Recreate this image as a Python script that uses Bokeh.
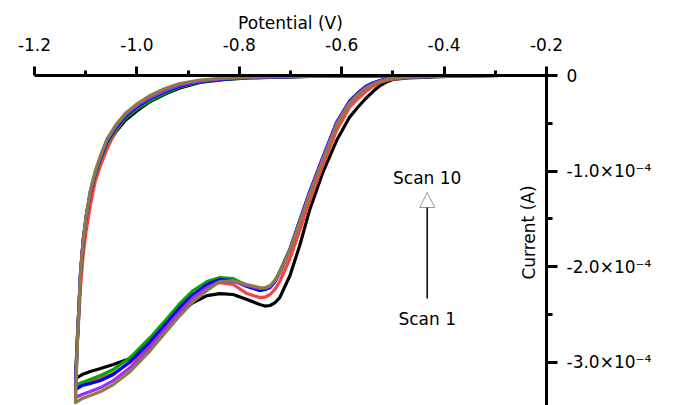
from bokeh.plotting import figure
from bokeh.models import Range1d, FixedTicker, NumeralTickFormatter, Label, Arrow, NormalHead
from bokeh.embed import file_html
from bokeh.resources import INLINE

# Potential (V) sampled along the cathodic (lower) and anodic (upper) branches
potential_fwd = [-0.23, -0.29, -0.37, -0.43, -0.47, -0.50, -0.513, -0.525, -0.539, -0.553, -0.569,
                 -0.585, -0.597, -0.61, -0.637, -0.663, -0.682, -0.701, -0.721, -0.73, -0.74, -0.75,
                 -0.76, -0.785, -0.812, -0.838, -0.863, -0.89, -0.916, -0.941, -0.974, -1.013,
                 -1.046, -1.071, -1.091, -1.107, -1.12]
potential_rev = [-1.12, -1.118, -1.116, -1.114, -1.11, -1.105, -1.099, -1.091, -1.081, -1.071,
                 -1.058, -1.042, -1.023, -0.999, -0.974, -0.945, -0.916, -0.877, -0.828, -0.779,
                 -0.721, -0.643, -0.546, -0.448, -0.331, -0.23]

# Current in units of 1e-4 A
scan1_fwd = [0, 0, -0.005, -0.016, -0.026, -0.042, -0.068, -0.105, -0.168, -0.241, -0.335, -0.440,
             -0.555, -0.681, -1.016, -1.414, -1.780, -2.094, -2.325, -2.377, -2.408, -2.414, -2.398,
             -2.346, -2.293, -2.283, -2.304, -2.377, -2.482, -2.607, -2.827, -2.963, -3.026, -3.068,
             -3.099, -3.131, -3.173]
scan1_rev = [-3.173, -2.942, -2.712, -2.513, -2.073, -1.749, -1.497, -1.257, -1.058, -0.901, -0.733,
             -0.597, -0.471, -0.367, -0.272, -0.194, -0.131, -0.073, -0.042, -0.026, -0.016, -0.007,
             -0.003, 0, 0, 0]
scan2_fwd = [0, 0, -0.005, -0.010, -0.021, -0.037, -0.052, -0.073, -0.115, -0.168, -0.246, -0.335,
             -0.450, -0.576, -0.942, -1.319, -1.623, -1.916, -2.157, -2.236, -2.293, -2.320, -2.325,
             -2.283, -2.188, -2.168, -2.209, -2.314, -2.461, -2.618, -2.817, -3.005, -3.120, -3.173,
             -3.204, -3.225, -3.257]
scan2_rev = [-3.257, -3.005, -2.775, -2.586, -2.199, -1.885, -1.623, -1.361, -1.099, -0.942, -0.764,
             -0.586, -0.440, -0.325, -0.236, -0.157, -0.097, -0.054, -0.029, -0.018, -0.013, -0.006,
             -0.003, 0, 0, 0]
scan4_fwd = [0, 0, -0.005, -0.010, -0.016, -0.026, -0.038, -0.052, -0.079, -0.115, -0.188, -0.272,
             -0.377, -0.492, -0.859, -1.225, -1.518, -1.812, -2.052, -2.147, -2.220, -2.241, -2.251,
             -2.199, -2.126, -2.115, -2.157, -2.251, -2.387, -2.544, -2.743, -2.953, -3.078, -3.141,
             -3.183, -3.215, -3.246]
scan4_rev = [-3.246, -2.984, -2.723, -2.513, -2.063, -1.738, -1.487, -1.236, -1.037, -0.880, -0.712,
             -0.576, -0.450, -0.346, -0.262, -0.183, -0.120, -0.068, -0.037, -0.023, -0.015, -0.007,
             -0.003, 0, 0, 0]
scan6_fwd = [0, 0, -0.005, -0.010, -0.016, -0.026, -0.038, -0.052, -0.079, -0.115, -0.188, -0.272,
             -0.377, -0.492, -0.859, -1.225, -1.518, -1.822, -2.063, -2.157, -2.220, -2.241, -2.251,
             -2.209, -2.147, -2.136, -2.188, -2.293, -2.429, -2.586, -2.785, -2.995, -3.131, -3.194,
             -3.225, -3.246, -3.288]
scan6_rev = [-3.288, -3.005, -2.733, -2.513, -2.052, -1.728, -1.476, -1.225, -1.016, -0.864, -0.691,
             -0.555, -0.429, -0.325, -0.241, -0.167, -0.110, -0.063, -0.037, -0.021, -0.014, -0.007,
             -0.003, 0, 0, 0]
scan8_fwd = [0, 0, -0.005, -0.010, -0.016, -0.026, -0.040, -0.058, -0.087, -0.126, -0.199, -0.283,
             -0.387, -0.503, -0.869, -1.236, -1.529, -1.822, -2.063, -2.147, -2.209, -2.225, -2.230,
             -2.199, -2.157, -2.157, -2.220, -2.325, -2.471, -2.628, -2.838, -3.058, -3.194, -3.267,
             -3.309, -3.340, -3.372]
scan8_rev = [-3.372, -3.037, -2.754, -2.524, -2.052, -1.728, -1.466, -1.215, -1.005, -0.848, -0.675,
             -0.539, -0.414, -0.309, -0.230, -0.157, -0.099, -0.058, -0.031, -0.021, -0.013, -0.006,
             -0.002, 0, 0, 0]
scan10_fwd = [0, 0, -0.005, -0.010, -0.016, -0.031, -0.045, -0.063, -0.094, -0.136, -0.204, -0.293,
              -0.398, -0.524, -0.890, -1.257, -1.539, -1.832, -2.063, -2.141, -2.199, -2.225, -2.220,
              -2.188, -2.147, -2.157, -2.251, -2.366, -2.513, -2.670, -2.880, -3.099, -3.236, -3.309,
              -3.351, -3.382, -3.424]
scan10_rev = [-3.424, -3.089, -2.775, -2.545, -2.063, -1.728, -1.466, -1.204, -0.995, -0.838, -0.660,
              -0.524, -0.398, -0.293, -0.209, -0.136, -0.084, -0.047, -0.026, -0.016, -0.010, -0.005,
              -0.002, 0, 0, 0]

scan_colors = ["#000000", "#FF4040", "#00A800", "#0000FF", "#A030F0", "#8C7B48"]
scans = [(scan1_fwd, scan1_rev), (scan2_fwd, scan2_rev), (scan4_fwd, scan4_rev),
         (scan6_fwd, scan6_rev), (scan8_fwd, scan8_rev), (scan10_fwd, scan10_rev)]

x_ticks = [-1.2, -1.0, -0.8, -0.6, -0.4, -0.2]
x_minor = [-1.1, -0.9, -0.7, -0.5, -0.3]
y_ticks = [0, -1, -2, -3]
y_minor = [-0.5, -1.5, -2.5]
y_labels = {0: "0", -1: "-1.0×10⁻⁴", -2: "-2.0×10⁻⁴", -3: "-3.0×10⁻⁴"}

FONT = "DejaVu Sans"
FS = "17px"

p = figure(frame_width=512, frame_height=330,
           x_range=Range1d(-1.2, -0.2), y_range=Range1d(-3.455, 0),
           output_backend="svg", toolbar_location=None,
           x_axis_location="above", y_axis_location="right",
           min_border_left=34, min_border_top=75, min_border_right=110, min_border_bottom=0)
p.grid.visible = False
p.outline_line_color = None
p.background_fill_color = "white"
p.border_fill_color = "white"

for ax in (p.xaxis[0], p.yaxis[0]):
    ax.axis_line_width = 3
    ax.axis_line_color = "black"
    ax.major_tick_line_width = 3
    ax.minor_tick_line_width = 3
    ax.major_tick_line_color = "black"
    ax.minor_tick_line_color = "black"
    ax.major_tick_in = 0
    ax.minor_tick_in = 0
    ax.major_label_text_font = FONT
    ax.major_label_text_font_size = FS
    ax.major_label_text_color = "black"

xa = p.xaxis[0]
xa.ticker = FixedTicker(ticks=x_ticks, minor_ticks=x_minor)
xa.formatter = NumeralTickFormatter(format="0.0")
xa.major_tick_out = 9
xa.minor_tick_out = 5
xa.major_label_standoff = 16
xa.axis_label = "Potential (V)"
xa.axis_label_text_font = FONT
xa.axis_label_text_font_size = FS
xa.axis_label_text_font_style = "normal"
xa.axis_label_text_color = "black"
xa.axis_label_standoff = 2

ya = p.yaxis[0]
ya.ticker = FixedTicker(ticks=y_ticks, minor_ticks=y_minor)
ya.major_label_overrides = y_labels
ya.major_tick_out = 11
ya.minor_tick_out = 6
ya.major_label_standoff = 9

for (fwd, rev), color in zip(scans, scan_colors):
    xs = potential_fwd + potential_rev[1:]
    ys = fwd + rev[1:]
    p.line(xs, ys, line_color=color, line_width=3.2, line_join="round")

p.add_layout(Label(x=-0.2, y=-1.644, x_offset=-18, text="Current (A)", angle=1.5708,
                   text_align="center", text_baseline="middle", text_font=FONT,
                   text_font_size=FS, text_color="black"))
p.add_layout(Label(x=-0.433, y=-1.068, text="Scan 10", text_align="center", text_baseline="middle",
                   text_font=FONT, text_font_size=FS, text_color="black"))
p.add_layout(Label(x=-0.433, y=-2.545, text="Scan 1", text_align="center", text_baseline="middle",
                   text_font=FONT, text_font_size=FS, text_color="black"))
p.add_layout(Arrow(end=NormalHead(size=15, fill_color="white", line_color="#999999", line_width=1),
                   x_start=-0.433, y_start=-2.335, x_end=-0.433, y_end=-1.225,
                   line_color="black", line_width=1.5))

open("out.html", "w").write(file_html(p, INLINE))
